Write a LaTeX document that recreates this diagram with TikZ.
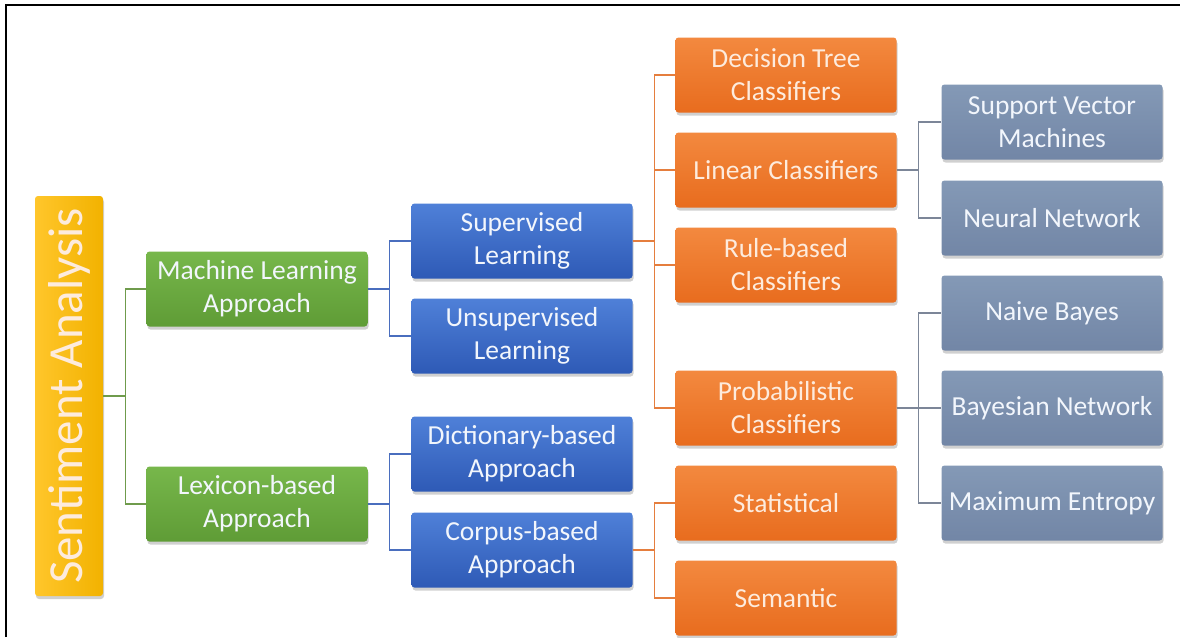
\documentclass[tikz,border=0pt]{standalone}
\usepackage{fontspec}
\setmainfont{Carlito}
\usetikzlibrary{shadows,calc}
\definecolor{yelT}{HTML}{FFC62B}
\definecolor{yelB}{HTML}{F2B200}
\definecolor{grnT}{HTML}{77B74B}
\definecolor{grnB}{HTML}{5F9C36}
\definecolor{bluT}{HTML}{4F80D8}
\definecolor{bluB}{HTML}{2E5AB6}
\definecolor{orgT}{HTML}{F3893F}
\definecolor{orgB}{HTML}{E86C1E}
\definecolor{gryT}{HTML}{8499B6}
\definecolor{gryB}{HTML}{7286A6}
\definecolor{gLine}{HTML}{6F9B4C}
\definecolor{bLine}{HTML}{4A6EBE}
\definecolor{oLine}{HTML}{E57E3E}
\definecolor{sLine}{HTML}{7C8698}
\definecolor{txtW}{HTML}{F2F6FC}
\definecolor{txtO}{HTML}{FDEBDD}
\begin{document}
\begin{tikzpicture}[x=1pt,y=-1pt,
  card/.style={rounded corners=3pt, minimum width=221pt, minimum height=75pt,
    inner sep=0pt, align=center, text=txtW,
    font=\fontsize{27.5}{33}\selectfont,
    drop shadow={shadow xshift=1pt, shadow yshift=-3pt, opacity=0.3, fill=black!60}},
  yelcard/.style={card, left color=yelT, right color=yelB, minimum width=400pt, minimum height=68pt,
    rotate=90, font=\fontsize{49}{52}\selectfont, text=txtO},
  grncard/.style={card, top color=grnT, bottom color=grnB},
  blucard/.style={card, top color=bluT, bottom color=bluB},
  orgcard/.style={card, top color=orgT, bottom color=orgB, text=txtO},
  grycard/.style={card, top color=gryT, bottom color=gryB},
  link/.style={line width=1.3pt},
  glink/.style={link, draw=gLine},
  blink/.style={link, draw=bLine},
  olink/.style={link, draw=oLine},
  slink/.style={link, draw=sLine}
]
\useasboundingbox (0,0) rectangle (1180,637);
\fill[white] (0,0) rectangle (1180,637);
\draw[line width=2.2pt] (6,637) -- (6,5) -- (1180,5);

\node[yelcard] (sa) at (69,396) {Sentiment Analysis};

\node[grncard] (ml) at (257,289) {Machine Learning\\Approach};
\node[grncard] (lex) at (257,504) {Lexicon-based\\Approach};

\node[blucard] (sup) at (522,241) {Supervised\\Learning};
\node[blucard] (uns) at (522,336) {Unsupervised\\Learning};
\node[blucard] (dic) at (522,454) {Dictionary-based\\Approach};
\node[blucard] (cor) at (522,550) {Corpus-based\\Approach};

\node[orgcard] (dt) at (786,75) {Decision Tree\\Classifiers};
\node[orgcard] (lin) at (786,170) {Linear Classifiers};
\node[orgcard] (rule) at (786,265) {Rule-based\\Classifiers};
\node[orgcard] (prob) at (786,408) {Probabilistic\\Classifiers};
\node[orgcard] (stat) at (786,503) {Statistical};
\node[orgcard] (sem) at (786,598) {Semantic};

\node[grycard] (svm) at (1052,122) {Support Vector\\Machines};
\node[grycard] (nn) at (1052,218) {Neural Network};
\node[grycard] (nb) at (1052,313) {Naive Bayes};
\node[grycard] (bn) at (1052,408) {Bayesian Network};
\node[grycard] (me) at (1052,503) {Maximum Entropy};

\draw[glink] (sa.south) -- ++(22,0) |- (ml.west);
\draw[glink] (sa.south) -- ++(22,0) |- (lex.west);
\draw[blink] (ml.east) -- ++(22,0) |- (sup.west);
\draw[blink] (ml.east) -- ++(22,0) |- (uns.west);
\draw[blink] (lex.east) -- ++(22,0) |- (dic.west);
\draw[blink] (lex.east) -- ++(22,0) |- (cor.west);
\draw[olink] (sup.east) -- ++(22,0) |- (dt.west);
\draw[olink] (sup.east) -- ++(22,0) |- (lin.west);
\draw[olink] (sup.east) -- ++(22,0) |- (rule.west);
\draw[olink] (sup.east) -- ++(22,0) |- (prob.west);
\draw[olink] (cor.east) -- ++(22,0) |- (stat.west);
\draw[olink] (cor.east) -- ++(22,0) |- (sem.west);
\draw[slink] (lin.east) -- ++(22,0) |- (svm.west);
\draw[slink] (lin.east) -- ++(22,0) |- (nn.west);
\draw[slink] (prob.east) -- ++(22,0) |- (nb.west);
\draw[slink] (prob.east) -- ++(22,0) |- (bn.west);
\draw[slink] (prob.east) -- ++(22,0) |- (me.west);
\end{tikzpicture}
\end{document}
